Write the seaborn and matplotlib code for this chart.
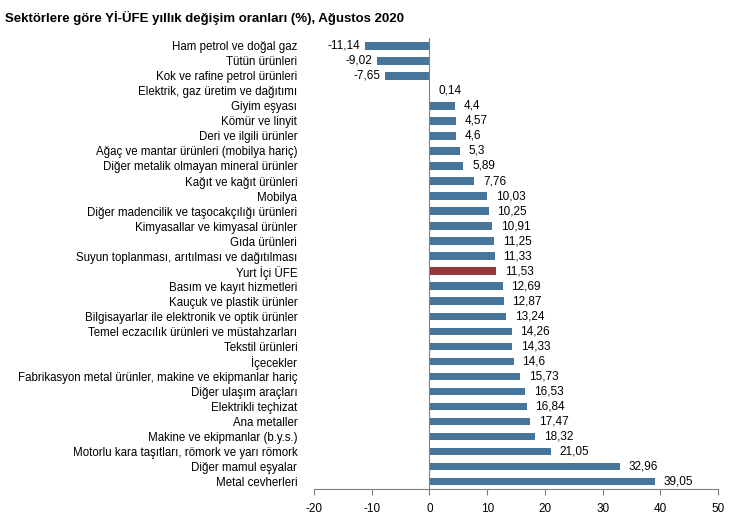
import pandas as pd
import seaborn as sns
import matplotlib.pyplot as plt

plt.rcParams["font.family"] = ["Liberation Sans", "DejaVu Sans"]

# sektorer og verdier (lest av fra figuren)
sektorer = [
    "Ham petrol ve doğal gaz", "Tütün ürünleri", "Kok ve rafine petrol ürünleri",
    "Elektrik, gaz üretim ve dağıtımı", "Giyim eşyası", "Kömür ve linyit",
    "Deri ve ilgili ürünler", "Ağaç ve mantar ürünleri (mobilya hariç)",
    "Diğer metalik olmayan mineral ürünler", "Kağıt ve kağıt ürünleri", "Mobilya",
    "Diğer madencilik ve taşocakçılığı ürünleri", "Kimyasallar ve kimyasal ürünler",
    "Gıda ürünleri", "Suyun toplanması, arıtılması ve dağıtılması", "Yurt İçi ÜFE",
    "Basım ve kayıt hizmetleri", "Kauçuk ve plastik ürünler",
    "Bilgisayarlar ile elektronik ve optik ürünler",
    "Temel eczacılık ürünleri ve müstahzarları", "Tekstil ürünleri", "İçecekler",
    "Fabrikasyon metal ürünler, makine ve ekipmanlar hariç", "Diğer ulaşım araçları",
    "Elektrikli teçhizat", "Ana metaller", "Makine ve ekipmanlar (b.y.s.)",
    "Motorlu kara taşıtları, römork ve yarı römork", "Diğer mamul eşyalar",
    "Metal cevherleri",
]
verdier = [-11.14, -9.02, -7.65, 0.14, 4.4, 4.57, 4.6, 5.3, 5.89, 7.76, 10.03,
           10.25, 10.91, 11.25, 11.33, 11.53, 12.69, 12.87, 13.24, 14.26, 14.33,
           14.6, 15.73, 16.53, 16.84, 17.47, 18.32, 21.05, 32.96, 39.05]
x_ticks = [-20, -10, 0, 10, 20, 30, 40, 50]

df = pd.DataFrame({"sektor": sektorer, "verdi": verdier})
df["gruppe"] = ["ufe" if s == "Yurt İçi ÜFE" else "sektor" for s in sektorer]

fig = plt.figure(figsize=(7.32, 5.17), dpi=100)
ax = fig.add_axes([0.429, 0.054, 0.552, 0.872])

sns.barplot(data=df, y="sektor", x="verdi", hue="gruppe", orient="h",
            palette={"sektor": "#3878aa", "ufe": "#a3292b"},
            width=0.5, dodge=False, legend=False, ax=ax)

# etiketter
for i, v in enumerate(verdier):
    tekst = f"{v:g}".replace(".", ",")
    if v < 0:
        ax.text(v - 0.9, i, tekst, va="center", ha="right", fontsize=8.5)
    else:
        ax.text(v + 1.5, i, tekst, va="center", ha="left", fontsize=8.5)

ax.axvline(0, color="#808080", lw=0.8)
ax.set_xlim(-20, 50)
ax.set_ylim(29.5, -0.5)
ax.set_xticks(x_ticks)
ax.set_xticklabels([str(t) for t in x_ticks], fontsize=8.5)
ax.tick_params(axis="x", length=4, color="#808080", direction="out", pad=6)
ax.tick_params(axis="y", length=0, labelsize=8.3, pad=12)
for s in ["top", "right", "left"]:
    ax.spines[s].set_visible(False)
ax.spines["bottom"].set_color("#808080")
ax.set_xlabel("")
ax.set_ylabel("")

fig.text(0.007, 0.978, "Sektörlere göre Yİ-ÜFE yıllık değişim oranları (%), Ağustos 2020",
         fontsize=9.5, fontweight="bold", va="top", ha="left")

fig.savefig("out.png", dpi=100)
